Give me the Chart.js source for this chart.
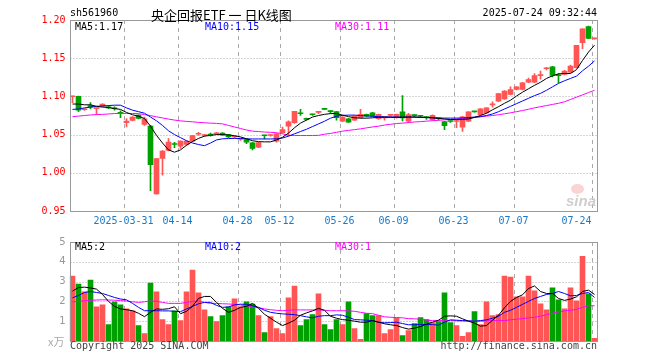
<!DOCTYPE html>
<html lang="zh">
<head>
<meta charset="UTF-8">
<title>央企回报ETF 日K线图</title>
<script src="https://cdn.jsdelivr.net/npm/chart.js"></script>
<style>
  body { margin: 0; background: #fff; }
  #wrap { position: relative; width: 660px; height: 360px; overflow: hidden;
          font-family: "DejaVu Sans Mono", monospace; font-size: 10px; }
  #wrap canvas { position: absolute; left: 0; }
  .t { position: absolute; white-space: nowrap; line-height: 12px; }
  .eye { position: absolute; left: 571px; top: 184px; width: 13px; height: 10px;
         border-radius: 50%; background: rgba(240, 110, 110, 0.3); }
</style>
</head>
<body>
<div id="wrap">
  <canvas id="kline" width="660" height="232" style="top:0"></canvas>
  <canvas id="vol" width="660" height="128" style="top:232px"></canvas>

  <div class="t" style="left:70px;top:7px;color:#000">sh561960</div>
  <div class="t" style="left:151px;top:5px;font:13px 'Noto Sans CJK SC';color:#000">央企回报ETF 一 日K线图</div>
  <div class="t" style="right:63px;top:7px;color:#000">2025-07-24 09:32:44</div>

  <div class="t" style="left:75px;top:21px;color:#000">MA5:1.17</div>
  <div class="t" style="left:205px;top:21px;color:#0000ff">MA10:1.15</div>
  <div class="t" style="left:335px;top:21px;color:#ff00ff">MA30:1.11</div>

  <div class="t" style="left:75px;top:241px;color:#000">MA5:2</div>
  <div class="t" style="left:205px;top:241px;color:#0000ff">MA10:2</div>
  <div class="t" style="left:335px;top:241px;color:#ff00ff">MA30:1</div>

  <div class="t" style="left:48px;top:333px;font:11px 'Noto Sans CJK SC';color:#aaa">x万</div>
  <div class="t" style="left:70px;top:340px;color:#444">Copyright 2025 SINA.COM</div>
  <div class="t" style="right:63px;top:340px;color:#444">http://finance.sina.com.cn</div>
  <div class="eye"></div>
  <div class="t" style="left:566px;top:192px;font:italic bold 15px 'Liberation Sans';color:#cfcfcf">sina</div>
</div>

<script>
  // trading days 2025-03-18 .. 2025-07-24
  const dates = [
    '03-18','03-19','03-20','03-21','03-24','03-25','03-26','03-27','03-28','03-31',
    '04-01','04-02','04-03','04-07','04-08','04-09','04-10','04-11','04-14','04-15',
    '04-16','04-17','04-18','04-21','04-22','04-23','04-24','04-25','04-28','04-29',
    '04-30','05-06','05-07','05-08','05-09','05-12','05-13','05-14','05-15','05-16',
    '05-19','05-20','05-21','05-22','05-23','05-26','05-27','05-28','05-29','05-30',
    '06-03','06-04','06-05','06-06','06-09','06-10','06-11','06-12','06-13','06-16',
    '06-17','06-18','06-19','06-20','06-23','06-24','06-25','06-26','06-27','06-30',
    '07-01','07-02','07-03','07-04','07-07','07-08','07-09','07-10','07-11','07-14',
    '07-15','07-16','07-17','07-18','07-21','07-22','07-23','07-24'
  ];
  const tickDates = ['03-31','04-14','04-28','05-12','05-26','06-09','06-23','07-07','07-24'];
  // the last label is pushed left inside the frame, as on the original
  const tickLabels = ['2025-03-31','04-14','04-28','05-12','05-26','06-09','06-23','07-07','07-24     '];
  const priceLines = [1.00, 1.05, 1.10, 1.15];
  const volumeLines = [1, 2, 3, 4];

  const open = [
    1.0995,1.1000,1.0825,1.0880,1.0840,1.0873,1.0860,1.0850,1.0790,1.0655,
    1.0685,1.0755,1.0633,1.0610,0.9723,1.0187,1.0292,1.0383,1.0349,1.0370,
    1.0414,1.0505,1.0488,1.0500,1.0510,1.0520,1.0500,1.0468,1.0440,1.0435,
    1.0393,1.0336,1.0490,1.0488,1.0415,1.0524,1.0611,1.0655,1.0786,1.0710,
    1.0765,1.0790,1.0832,1.0805,1.0800,1.0677,1.0707,1.0690,1.0720,1.0765,
    1.0786,1.0707,1.0718,1.0752,1.0720,1.0797,1.0675,1.0752,1.0745,1.0725,
    1.0697,1.0712,1.0670,1.0676,1.0672,1.0596,1.0675,1.0800,1.0762,1.0784,
    1.0890,1.0937,1.0968,1.1025,1.1090,1.1090,1.1186,1.1186,1.1272,1.1362,
    1.1388,1.1278,1.1287,1.1318,1.1375,1.1703,1.1913,1.1752
  ];
  const high = [
    1.1005,1.1005,1.0840,1.0920,1.0848,1.0904,1.0880,1.0865,1.0810,1.0710,
    1.0735,1.0760,1.0730,1.0620,1.0187,1.0290,1.0449,1.0400,1.0420,1.0420,
    1.0490,1.0530,1.0500,1.0520,1.0530,1.0525,1.0505,1.0480,1.0450,1.0440,
    1.0400,1.0400,1.0495,1.0500,1.0515,1.0600,1.0680,1.0803,1.0830,1.0715,
    1.0770,1.0800,1.0838,1.0815,1.0805,1.0735,1.0712,1.0745,1.0830,1.0770,
    1.0790,1.0770,1.0730,1.0765,1.0770,1.1011,1.0780,1.0760,1.0750,1.0735,
    1.0760,1.0720,1.0675,1.0680,1.0700,1.0740,1.0800,1.0805,1.0840,1.0855,
    1.0930,1.1040,1.1075,1.1125,1.1130,1.1185,1.1240,1.1300,1.1330,1.1380,
    1.1392,1.1300,1.1340,1.1410,1.1670,1.1886,1.1920,1.1762
  ];
  const low = [
    1.0917,1.0800,1.0815,1.0835,1.0764,1.0868,1.0840,1.0820,1.0720,1.0600,
    1.0680,1.0705,1.0620,0.9767,0.9720,0.9968,1.0285,1.0330,1.0320,1.0360,
    1.0410,1.0490,1.0475,1.0480,1.0500,1.0490,1.0460,1.0455,1.0425,1.0380,
    1.0300,1.0330,1.0445,1.0480,1.0400,1.0520,1.0480,1.0645,1.0750,1.0690,
    1.0750,1.0775,1.0828,1.0780,1.0690,1.0670,1.0660,1.0685,1.0715,1.0730,
    1.0735,1.0700,1.0690,1.0735,1.0715,1.0680,1.0660,1.0730,1.0730,1.0700,
    1.0690,1.0690,1.0565,1.0660,1.0590,1.0543,1.0670,1.0795,1.0755,1.0780,
    1.0860,1.0930,1.0960,1.1020,1.1085,1.1085,1.1180,1.1180,1.1225,1.1345,
    1.1255,1.1180,1.1280,1.1310,1.1370,1.1625,1.1755,1.1748
  ];
  const close = [
    1.1002,1.0821,1.0830,1.0860,1.0845,1.0900,1.0850,1.0838,1.0780,1.0676,
    1.0729,1.0711,1.0707,1.0108,1.0187,1.0283,1.0401,1.0370,1.0414,1.0414,
    1.0488,1.0510,1.0492,1.0493,1.0515,1.0497,1.0470,1.0472,1.0445,1.0400,
    1.0318,1.0397,1.0485,1.0492,1.0511,1.0567,1.0668,1.0803,1.0773,1.0700,
    1.0760,1.0795,1.0830,1.0800,1.0720,1.0729,1.0664,1.0742,1.0764,1.0740,
    1.0742,1.0764,1.0722,1.0755,1.0764,1.0718,1.0762,1.0748,1.0740,1.0722,
    1.0753,1.0708,1.0618,1.0672,1.0676,1.0732,1.0797,1.0798,1.0837,1.0850,
    1.0895,1.1038,1.1068,1.1090,1.1125,1.1178,1.1221,1.1274,1.1277,1.1366,
    1.1274,1.1270,1.1331,1.1396,1.1668,1.1886,1.1760,1.1758
  ];
  const ma5 = [
    1.090,1.090,1.089,1.089,1.087,1.086,1.0855,1.084,1.083,1.079,
    1.076,1.074,1.071,1.061,1.049,1.039,1.030,1.027,1.030,1.036,
    1.041,1.045,1.048,1.049,1.050,1.050,1.0495,1.0485,1.047,1.0445,
    1.042,1.0408,1.0405,1.0405,1.043,1.0465,1.052,1.059,1.065,1.069,
    1.073,1.075,1.0765,1.0775,1.0775,1.0755,1.0735,1.072,1.0715,1.0715,
    1.072,1.0725,1.0728,1.0725,1.0725,1.0728,1.073,1.073,1.0728,1.0725,
    1.072,1.0712,1.0705,1.0697,1.0697,1.0697,1.0705,1.0725,1.075,1.078,
    1.0825,1.0865,1.091,1.095,1.1005,1.1055,1.110,1.1145,1.1185,1.1235,
    1.127,1.1295,1.130,1.130,1.135,1.147,1.158,1.167
  ];
  const ma10 = [
    1.083,1.0835,1.085,1.086,1.087,1.0875,1.088,1.0885,1.0885,1.085,
    1.082,1.080,1.078,1.073,1.068,1.062,1.055,1.050,1.046,1.042,
    1.039,1.037,1.0355,1.039,1.043,1.0445,1.0448,1.045,1.0448,1.0445,
    1.0443,1.0443,1.0443,1.0443,1.0445,1.0455,1.048,1.051,1.054,1.057,
    1.0605,1.064,1.0675,1.0715,1.074,1.0752,1.0755,1.0755,1.0748,1.0745,
    1.074,1.0735,1.0733,1.0732,1.073,1.0728,1.073,1.0728,1.0725,1.0722,
    1.072,1.0718,1.0716,1.0716,1.0716,1.0718,1.0722,1.073,1.0735,1.075,
    1.077,1.080,1.0835,1.087,1.0905,1.094,1.0975,1.101,1.104,1.108,
    1.1125,1.117,1.1205,1.1235,1.1265,1.1335,1.1395,1.1465
  ];
  const ma30 = [
    1.0735,1.0742,1.075,1.0757,1.0762,1.0765,1.077,1.0776,1.0777,1.0777,
    1.0776,1.0774,1.0762,1.0748,1.0733,1.0718,1.0703,1.069,1.068,1.0673,
    1.0667,1.066,1.0655,1.065,1.0647,1.064,1.062,1.060,1.058,1.056,
    1.0545,1.054,1.0533,1.053,1.0525,1.051,1.049,1.0488,1.0488,1.0488,
    1.0488,1.049,1.0505,1.0515,1.053,1.0545,1.0555,1.0565,1.0575,1.0588,
    1.060,1.061,1.0625,1.0635,1.0645,1.065,1.0657,1.0665,1.067,1.0676,
    1.0682,1.0688,1.0693,1.0697,1.0704,1.071,1.0718,1.0725,1.0733,1.0742,
    1.075,1.076,1.0772,1.0785,1.080,1.0815,1.0832,1.085,1.0865,1.088,
    1.0895,1.091,1.093,1.096,1.099,1.102,1.105,1.108
  ];

  // volume, x万
  const volume = [
    3.28,2.88,2.48,3.08,1.73,1.83,0.83,1.98,1.83,1.62,
    1.52,0.78,0.38,2.93,2.48,1.08,0.83,1.53,1.03,2.48,
    3.58,2.43,1.58,1.23,0.98,1.28,1.73,2.13,1.73,1.98,
    1.87,1.28,0.43,1.23,0.63,0.38,2.18,2.78,0.78,1.08,
    1.33,2.38,0.83,0.58,1.08,0.83,1.98,0.63,0.08,1.38,
    1.28,1.28,0.38,0.58,1.18,0.28,0.53,0.88,1.18,1.08,
    0.93,0.98,2.43,0.93,0.78,0.23,0.43,1.48,0.83,1.98,
    1.28,1.33,3.28,3.23,2.23,2.23,3.28,2.53,1.88,1.58,
    2.68,2.08,1.63,2.68,2.03,4.28,2.38,0.13
  ];
  const vma5 = [
    2.52,2.70,2.72,2.68,2.62,2.35,2.0,1.75,1.62,1.58,
    1.53,1.40,1.23,1.45,1.62,1.60,1.63,1.73,1.38,1.50,
    1.75,2.15,2.25,2.25,1.95,1.65,1.45,1.55,1.70,1.75,
    1.90,1.65,1.35,1.15,0.95,0.78,0.90,1.05,1.3,1.42,
    1.52,1.65,1.55,1.25,1.15,1.08,1.05,1.0,0.95,0.95,
    1.03,0.95,0.87,0.82,0.78,0.68,0.6,0.65,0.73,0.85,
    0.95,1.05,1.25,1.27,1.25,1.12,1.0,0.9,0.75,0.78,
    1.05,1.3,1.68,2.0,2.2,2.33,2.65,2.78,2.5,2.4,
    2.4,2.15,2.05,2.12,2.23,2.5,2.57,2.35
  ];
  const vma10 = [
    2.18,2.30,2.45,2.50,2.45,2.40,2.30,2.20,2.12,2.08,
    1.90,1.70,1.53,1.53,1.53,1.52,1.52,1.50,1.48,1.62,
    1.75,1.88,1.95,1.95,1.80,1.70,1.72,1.82,1.86,1.85,
    1.78,1.70,1.55,1.45,1.40,1.37,1.35,1.33,1.28,1.22,
    1.17,1.25,1.28,1.28,1.32,1.30,1.2,1.08,1.07,1.05,
    1.03,0.95,0.92,0.93,0.95,0.88,0.82,0.82,0.83,0.83,
    0.83,0.80,0.95,1.07,1.05,1.03,1.02,1.0,1.03,1.07,
    1.15,1.25,1.45,1.55,1.7,1.85,2.0,2.15,2.25,2.35,
    2.4,2.5,2.4,2.28,2.3,2.4,2.45,2.2
  ];
  const vma30 = [
    1.98,2.00,2.03,2.05,2.07,2.08,2.07,2.06,2.04,2.02,
    1.98,1.95,1.98,2.02,2.0,1.95,1.90,1.90,1.90,1.95,
    2.0,2.02,1.95,1.9,1.9,1.88,1.87,1.85,1.82,1.78,
    1.72,1.68,1.62,1.58,1.55,1.53,1.55,1.57,1.57,1.57,
    1.57,1.57,1.55,1.53,1.53,1.53,1.52,1.5,1.45,1.4,
    1.38,1.3,1.22,1.2,1.18,1.17,1.13,1.12,1.1,1.05,
    1.03,1.03,1.03,1.03,1.02,1.02,1.0,1.0,1.0,1.02,
    1.03,1.03,1.03,1.07,1.1,1.13,1.17,1.2,1.25,1.33,
    1.4,1.47,1.52,1.55,1.6,1.7,1.78,1.78
  ];

  const RED = '#ff5555';
  const GREEN = '#00a000';
  const candleColors = close.map((c, i) => (c >= open[i] ? RED : GREEN));
  const bodies = open.map((o, i) => [Math.min(o, close[i]), Math.max(o, close[i])]);
  const wicks = low.map((l, i) => [l, high[i]]);

  const mono = { family: 'DejaVu Sans Mono', size: 10 };

  // dotted rows, dashed date columns and the gray box, placed with the chart's scales
  const gridPlugin = {
    id: 'sinaGrid',
    beforeDatasetsDraw(chart, args, opts) {
      const { ctx, chartArea: a, scales: { x, y } } = chart;
      ctx.save();
      ctx.lineWidth = 1;
      ctx.strokeStyle = '#aaaaaa';
      ctx.setLineDash([1, 2]);
      opts.rows.forEach((v) => {
        const py = Math.round(y.getPixelForValue(v)) + 0.5;
        ctx.beginPath();
        ctx.moveTo(a.left + 1, py);
        ctx.lineTo(a.right, py);
        ctx.stroke();
      });
      ctx.setLineDash([4, 4]);
      tickDates.forEach((d) => {
        const px = x.getPixelForValue(dates.indexOf(d)) - 2;
        ctx.beginPath();
        ctx.moveTo(px, a.top);
        ctx.lineTo(px, a.bottom);
        ctx.stroke();
      });
      ctx.restore();
    },
    afterDraw(chart) {
      const { ctx, chartArea: a } = chart;
      ctx.save();
      ctx.strokeStyle = '#999999';
      ctx.lineWidth = 1;
      ctx.strokeRect(a.left + 1, a.top + 0.5, a.right - a.left - 1, a.bottom - a.top);
      ctx.restore();
    }
  };

  function xAxis(showLabels, height) {
    return {
      offset: true,
      grid: { display: false, drawTicks: false },
      border: { display: false },
      ticks: {
        display: showLabels,
        autoSkip: false,
        maxRotation: 0,
        padding: 4,
        labelOffset: -3,
        color: '#1a7ac8',
        font: mono,
        callback: (v, i) => {
          const k = tickDates.indexOf(dates[i]);
          return k < 0 ? '' : tickLabels[k];
        }
      },
      afterFit: (s) => { s.height = height; }
    };
  }

  function maLine(data, color) {
    return { type: 'line', data: data, borderColor: color, borderWidth: 1,
             pointRadius: 0, tension: 0, order: 0 };
  }

  const common = {
    responsive: false,
    animation: false,
    devicePixelRatio: 1,
    events: []
  };

  new Chart(document.getElementById('kline'), {
    type: 'bar',
    data: {
      labels: dates,
      datasets: [
        maLine(ma5, '#000000'),
        maLine(ma10, '#0000ff'),
        maLine(ma30, '#ff00ff'),
        { data: bodies, backgroundColor: candleColors, barThickness: 5,
          grouped: false, minBarLength: 1, order: 1 },
        { data: wicks, backgroundColor: candleColors, barThickness: 1,
          grouped: false, order: 2 }
      ]
    },
    options: {
      ...common,
      plugins: {
        legend: { display: false },
        tooltip: { enabled: false },
        sinaGrid: { rows: priceLines }
      },
      layout: { padding: { top: 20, right: 62.5, left: 0, bottom: 0 } },
      scales: {
        x: xAxis(true, 21),
        y: {
          min: 0.95,
          max: 1.2,
          afterFit: (s) => { s.width = 69.5; },
          grid: { display: false, drawTicks: false },
          border: { display: false },
          ticks: { stepSize: 0.05, padding: 4, color: '#ff0000', font: mono,
                   callback: (v) => v.toFixed(2) }
        }
      }
    },
    plugins: [gridPlugin]
  });

  new Chart(document.getElementById('vol'), {
    type: 'bar',
    data: {
      labels: dates,
      datasets: [
        maLine(vma5, '#000000'),
        maLine(vma10, '#0000ff'),
        maLine(vma30, '#ff00ff'),
        { data: volume, backgroundColor: candleColors, barThickness: 5,
          grouped: false, order: 1 }
      ]
    },
    options: {
      ...common,
      plugins: {
        legend: { display: false },
        tooltip: { enabled: false },
        sinaGrid: { rows: volumeLines }
      },
      layout: { padding: { top: 8, right: 62.5, left: 0, bottom: 0 } },
      scales: {
        x: xAxis(false, 19),
        y: {
          min: 0,
          max: 5,
          afterFit: (s) => { s.width = 69.5; },
          grid: { display: false, drawTicks: false },
          border: { display: false },
          ticks: { stepSize: 1, padding: 4, color: '#999999',
                   font: { family: 'DejaVu Sans', size: 10 },
                   callback: (v) => (v === 0 ? '' : v) }
        }
      }
    },
    plugins: [gridPlugin]
  });
</script>
</body>
</html>
